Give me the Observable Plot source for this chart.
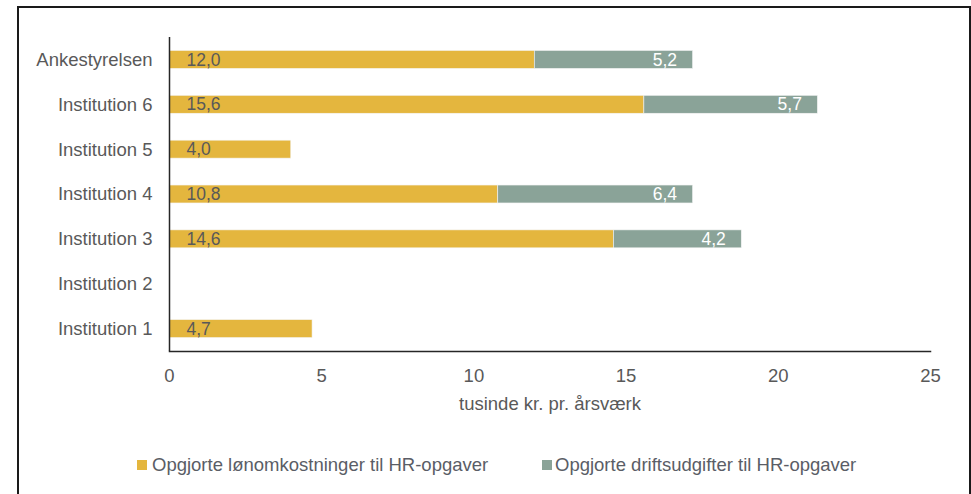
<!DOCTYPE html>
<html>
<head>
<meta charset="utf-8">
<script src="https://cdn.jsdelivr.net/npm/d3@7"></script>
<script src="https://cdn.jsdelivr.net/npm/@observablehq/plot@0.6"></script>
<style>
  body { margin: 0; background: #fff; }
  #wrap { position: relative; width: 971px; height: 494px; overflow: hidden; font-family: "Liberation Sans", Arial, sans-serif; }
  #border { position: absolute; left: 17px; top: 6px; width: 950px; height: 520px; border: 2px solid #1a1a1a; }
  #chart { position: absolute; left: 0; top: 0; }
  .leg { position: absolute; top: 454px; font-size: 18.5px; color: #5a5d66; display: flex; align-items: center; white-space: nowrap; }
  .sw { width: 10px; height: 10px; display: inline-block; margin-right: 5px; }
</style>
</head>
<body>
<div id="wrap">
  <div id="border"></div>
  <div id="chart"></div>
  <div class="leg" id="leg1" style="left:137px"><span class="sw"></span><span></span></div>
  <div class="leg" id="leg2" style="left:542px"><span class="sw" style="margin-right:3px"></span><span></span></div>
</div>
<script>
const categories = ["Ankestyrelsen", "Institution 6", "Institution 5", "Institution 4", "Institution 3", "Institution 2", "Institution 1"];
const salaryCosts = [12.0, 15.6, 4.0, 10.8, 14.6, null, 4.7];
const operatingCosts = [5.2, 5.7, null, 6.4, 4.2, null, null];
const seriesNames = ["Opgjorte lønomkostninger til HR-opgaver", "Opgjorte driftsudgifter til HR-opgaver"];
const seriesColors = ["#E4B63E", "#8AA398"];
const xTicks = [0, 5, 10, 15, 20, 25];
const xLabel = "tusinde kr. pr. årsværk";

const rows = [];
categories.forEach((c, i) => {
  if (salaryCosts[i] != null) rows.push({cat: c, series: seriesNames[0], value: salaryCosts[i]});
  if (operatingCosts[i] != null) rows.push({cat: c, series: seriesNames[1], value: operatingCosts[i]});
});
const salaryRows = rows.filter(d => d.series === seriesNames[0]);
const opRows = categories.map((c, i) => ({cat: c, value: operatingCosts[i], end: (salaryCosts[i] || 0) + (operatingCosts[i] || 0)})).filter(d => d.value != null);
const fmt = v => d3.format(".1f")(v).replace(".", ",");

const textColor = "#595959";
const plot = Plot.plot({
  width: 971,
  height: 420,
  marginLeft: 169,
  marginRight: 41,
  marginTop: 37,
  marginBottom: 69,
  style: {fontFamily: "'Liberation Sans', Arial, sans-serif", fontSize: "18.5px", color: textColor, background: "transparent"},
  x: {domain: [0, 25], ticks: xTicks},
  y: {domain: categories, paddingInner: 0.6, paddingOuter: 0.3, round: false},
  color: {domain: seriesNames, range: seriesColors},
  marks: [
    Plot.barX(rows, Plot.stackX({x: "value", y: "cat", fill: "series", order: seriesNames, stroke: "#f4f4f4", strokeWidth: 0.6})),
    Plot.text(salaryRows, {x: 0, y: "cat", text: d => fmt(d.value), textAnchor: "start", dx: 17, fill: "#595959", fontSize: 17.5}),
    Plot.text(opRows, {x: "end", y: "cat", text: d => fmt(d.value), textAnchor: "end", dx: -16, fill: "#ffffff", fontSize: 17.5}),
    Plot.ruleX([0], {stroke: "#262626", strokeWidth: 1.5}),
    Plot.frame({anchor: "bottom", stroke: "#262626", strokeWidth: 1.5}),
    Plot.axisX({ticks: xTicks, tickSize: 0, tickPadding: 17, tickFormat: d => String(d), label: xLabel, labelAnchor: "center", labelArrow: "none", labelOffset: 58, fill: textColor}),
    Plot.axisY({tickSize: 0, tickPadding: 17, label: null, fill: textColor})
  ]
});
document.getElementById("chart").appendChild(plot);

["leg1", "leg2"].forEach((id, i) => {
  const el = document.getElementById(id);
  el.children[0].style.background = seriesColors[i];
  el.children[1].textContent = seriesNames[i];
});
</script>
</body>
</html>
